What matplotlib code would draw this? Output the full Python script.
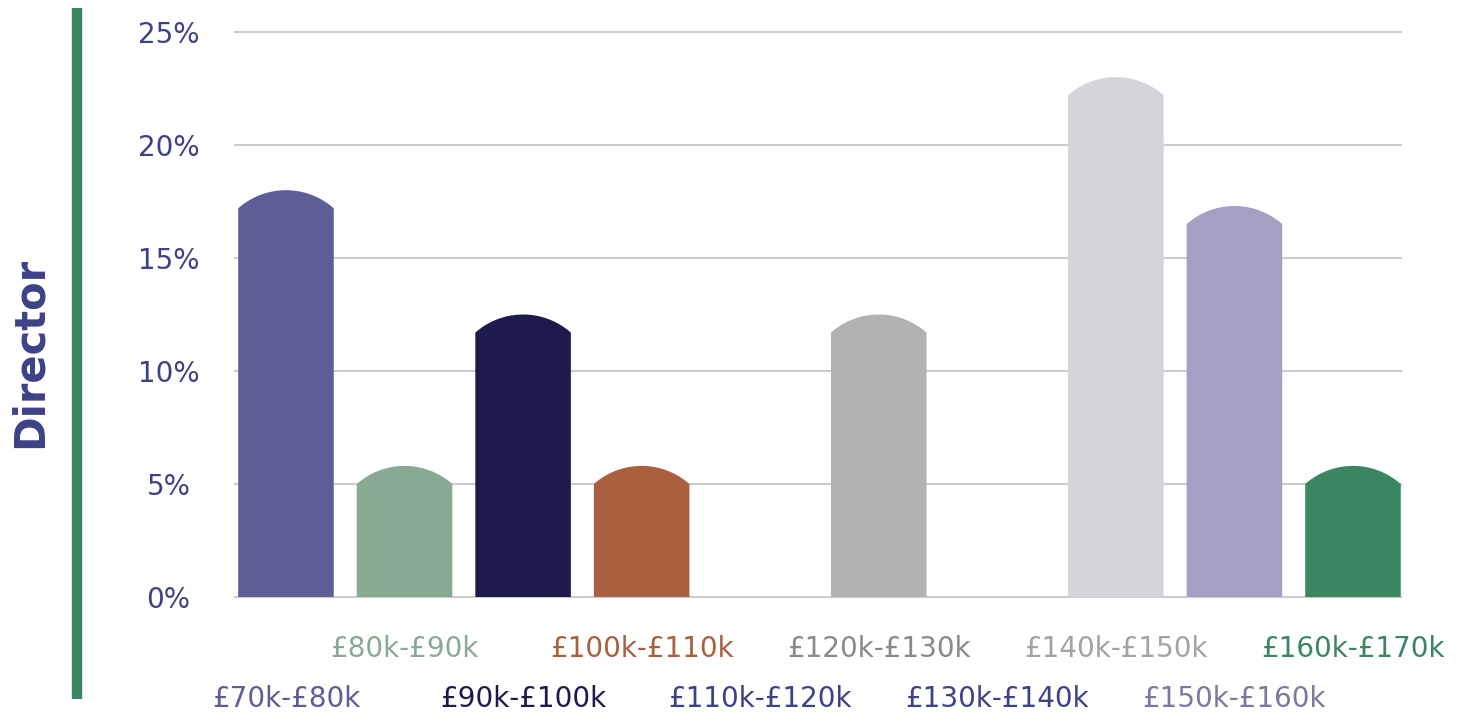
import numpy as np
import matplotlib
matplotlib.use("Agg")
import matplotlib.pyplot as plt
from matplotlib.patches import Polygon
from matplotlib.lines import Line2D

# --- data (share of Directors per salary band, %) ---
bands = ["£70k-£80k", "£80k-£90k", "£90k-£100k", "£100k-£110k", "£110k-£120k",
         "£120k-£130k", "£130k-£140k", "£140k-£150k", "£150k-£160k", "£160k-£170k"]
shares = [18.0, 5.8, 12.5, 5.8, 0.0, 12.5, 0.0, 23.0, 17.3, 5.8]
bar_colors = ["#5e5e96", "#88aa92", "#1f1a4c", "#a8603f", "#3d4288",
              "#b3b2b3", "#3d4288", "#d4d5da", "#a4a0c3", "#3a8661"]
label_colors = ["#5e5e96", "#88aa92", "#1f1a4c", "#a8603f", "#3d4288",
                "#8a8a8a", "#3d4288", "#a2a2a8", "#7a7a9e", "#3a8661"]
yticks = [0, 5, 10, 15, 20, 25]

TEXT = "#3d4288"
GRID = "#cccccc"
BAR_W = 0.806
CAP = 0.8   # height of the rounded top, in % units

plt.rcParams["font.family"] = ["DejaVu Sans"]

fig = plt.figure(figsize=(14.67, 7.14), dpi=100)
ax = fig.add_axes([235 / 1467, 117 / 714, 1166 / 1467, 565 / 714])
ax.set_xlim(-0.43, 9.405)
ax.set_ylim(0, 25)

# px per data unit, so the arched top is a true circular arc on screen
p0 = ax.transData.transform((0, 0))
p1 = ax.transData.transform((1, 1))
sx, sy = p1[0] - p0[0], p1[1] - p0[1]
half_px = BAR_W / 2 * sx
sag_px = CAP * sy
R = (half_px ** 2 + sag_px ** 2) / (2 * sag_px)

for i, (v, c) in enumerate(zip(shares, bar_colors)):
    if v <= 0:
        continue
    shoulder = v - CAP
    xs_px = np.linspace(-half_px, half_px, 80)
    arc = (np.sqrt(R ** 2 - xs_px ** 2) - (R - sag_px)) / sy
    xs = i + xs_px / sx
    pts = [(i - BAR_W / 2, 0)] + list(zip(xs, shoulder + arc)) + [(i + BAR_W / 2, 0)]
    ax.add_patch(Polygon(pts, closed=True, facecolor=c, edgecolor="none",
                         zorder=3, clip_on=False))

# gridlines
for yt in yticks:
    ax.axhline(yt, color=GRID, linewidth=1.5, zorder=1, clip_on=False)

for s in ax.spines.values():
    s.set_visible(False)
ax.set_xticks([])
ax.set_yticks(yticks)
ax.set_yticklabels([f"{yt}%" for yt in yticks], fontsize=20, color=TEXT)
ax.tick_params(axis="y", length=0, pad=48)
for lab in ax.get_yticklabels():
    lab.set_horizontalalignment("center")

# category labels, staggered on two rows
xt = ax.get_xaxis_transform()
for i, (b, c) in enumerate(zip(bands, label_colors)):
    y = -0.106 if i % 2 else -0.195
    ax.text(i, y, b, transform=xt, ha="center", va="baseline",
            fontsize=20, color=c, clip_on=False)

# row title and green accent bar
fig.text(30 / 1467, 1 - 352 / 714, "Director", rotation=90, ha="center", va="center",
         fontsize=30, fontweight="bold", color=TEXT)
fig.add_artist(Line2D([77 / 1467, 77 / 1467], [1 - 8 / 714, 1 - 699 / 714],
                      transform=fig.transFigure, color="#3a8661", linewidth=7.5,
                      solid_capstyle="butt"))

fig.savefig("out.png", dpi=100, facecolor="white")
